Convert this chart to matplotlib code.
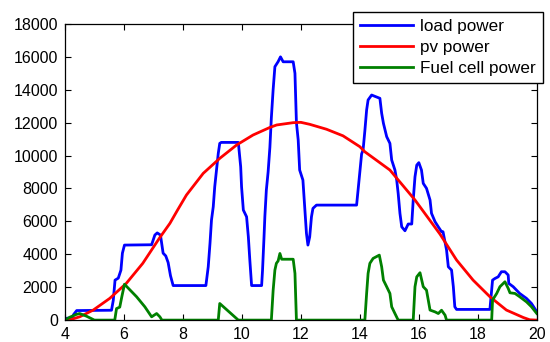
import matplotlib

matplotlib.use("Agg")
import matplotlib.pyplot as plt

# hour of day vs power (W)
load_t = [4.0, 4.25, 4.3, 4.4, 5.58, 5.64, 5.7, 5.81, 5.9, 5.95, 6.02, 6.94, 7.05, 7.13,
          7.24, 7.33, 7.42, 7.5, 7.58, 7.67, 8.78, 8.86, 8.92, 8.97, 9.03, 9.08, 9.14,
          9.2, 9.25, 9.3, 9.88, 9.96, 9.99, 10.05, 10.16, 10.22, 10.27, 10.33, 10.67,
          10.7, 10.75, 10.78, 10.83, 10.89, 10.95, 11.0, 11.06, 11.12, 11.23, 11.31,
          11.4, 11.74, 11.8, 11.85, 11.91, 11.96, 12.07, 12.13, 12.19, 12.24, 12.3,
          12.36, 12.41, 12.53, 13.89, 13.94, 14.0, 14.06, 14.11, 14.17, 14.23, 14.28,
          14.4, 14.51, 14.68, 14.74, 14.8, 14.91, 15.02, 15.08, 15.19, 15.25, 15.3,
          15.36, 15.42, 15.53, 15.64, 15.76, 15.81, 15.87, 15.93, 16.0, 16.09, 16.15,
          16.26, 16.38, 16.43, 16.55, 16.66, 16.77, 16.82, 16.94, 17.0, 17.11, 17.17,
          17.22, 17.28, 18.41, 18.5, 18.58, 18.69, 18.8, 18.92, 19.03, 19.05, 19.2,
          19.42, 19.65, 19.82, 20.0]
load_p = [100, 150, 350, 580, 600, 1200, 2430, 2550, 3040, 4070, 4560, 4580, 5170, 5300,
          5170, 4070, 3900, 3500, 2700, 2100, 2100, 3240, 4680, 6080, 6890, 8100, 9120,
          10130, 10740, 10800, 10800, 9320, 8100, 6690, 6280, 5060, 3650, 2100, 2100,
          3000, 5000, 6300, 7900, 9000, 10500, 12300, 14000, 15400, 15710, 16000,
          15700, 15700, 15000, 12000, 10950, 9120, 8510, 6890, 5270, 4560, 5060,
          6280, 6790, 6990, 6990, 7900, 9000, 10100, 10340, 11500, 12770, 13380,
          13680, 13600, 13480, 12570, 11960, 11150, 10740, 9730, 9120, 8510, 7700,
          6490, 5670, 5430, 5840, 5840, 7300, 8710, 9420, 9570, 9120, 8310,
          8010, 7300, 6490, 5980, 5670, 5370, 5370, 4260, 3240, 3040, 2030,
          810, 650, 650, 2430, 2530, 2630, 2940, 2940, 2740, 2230, 2030,
          1620, 1320, 1010, 510]

pv_t = [4.0, 4.17, 4.5, 4.96, 5.52, 6.08, 6.64, 7.2, 7.56, 7.82, 8.12, 8.69, 9.25, 9.82,
        10.38, 10.95, 11.18, 11.74, 12.0, 12.3, 12.87, 13.43, 14.0, 14.17, 15.02, 15.87,
        16.72, 17.28, 17.84, 18.41, 18.97, 19.54, 19.76, 20.0]
pv_p = [0, 20, 200, 610, 1320, 2230, 3450, 4970, 5880, 6690, 7600, 8920, 9830, 10640,
        11250, 11710, 11860, 12000, 12020, 11900, 11600, 11200, 10540, 10230, 9120, 7300,
        5220, 3650, 2430, 1420, 610, 160, 20, 0]

fc_t = [4.0, 4.17, 4.39, 4.5, 4.73, 5.0, 5.69, 5.75, 5.86, 5.93, 6.02, 6.43, 6.71, 6.94,
        7.11, 7.22, 7.29, 9.2, 9.25, 9.88, 11.0, 11.06, 11.12, 11.17, 11.23, 11.29,
        11.35, 11.74, 11.8, 11.85, 14.17, 14.23, 14.28, 14.34, 14.45, 14.66, 14.74,
        14.8, 14.91, 15.02, 15.08, 15.19, 15.3, 15.81, 15.87, 15.93, 16.04, 16.15,
        16.26, 16.32, 16.38, 16.55, 16.66, 16.77, 16.89, 16.94, 18.47, 18.5, 18.64,
        18.75, 18.92, 19.03, 19.09, 19.26, 19.42, 19.65, 19.82, 20.0]
fc_p = [0, 180, 350, 400, 240, 0, 0, 700, 790, 1420, 2180, 1420, 810, 200,
        400, 200, 0, 0, 1010, 0, 0, 1800, 3040, 3450, 3600, 4050,
        3700, 3700, 2840, 0, 0, 1620, 2840, 3450, 3750, 3950, 3240,
        2430, 2030, 1620, 810, 400, 0, 0, 2030, 2630, 2880, 2030,
        1820, 1220, 610, 500, 400, 600, 300, 0, 0, 1220, 1620,
        2030, 2330, 1930, 1660, 1620, 1420, 1110, 810, 400]

x_ticks = [4, 6, 8, 10, 12, 14, 16, 18, 20]
y_ticks = [0, 2000, 4000, 6000, 8000, 10000, 12000, 14000, 16000, 18000]

plt.rcParams["font.family"] = ["Liberation Sans", "DejaVu Sans"]

fig = plt.figure(figsize=(5.5, 3.42), dpi=100)
ax = fig.add_axes([0.118, 0.064, 0.858, 0.866])

ax.plot(load_t, load_p, color="#0000FF", linewidth=2.0, label="load power")
ax.plot(pv_t, pv_p, color="#FF0000", linewidth=2.0, label="pv power")
ax.plot(fc_t, fc_p, color="#008000", linewidth=2.0, label="Fuel cell power")

ax.set_xlim(4, 20)
ax.set_ylim(0, 18000)
ax.set_xticks(x_ticks)
ax.set_yticks(y_ticks)
ax.tick_params(direction="in", top=True, right=True, length=4, width=0.8,
               labelsize=11.5, pad=5)
for s in ax.spines.values():
    s.set_linewidth(0.9)

leg = fig.legend(loc="upper right", bbox_to_anchor=(0.987, 0.965), fontsize=12.3,
                 frameon=True, fancybox=False, handlelength=3.1, borderpad=0.4,
                 labelspacing=0.35, handletextpad=0.45, borderaxespad=0)
leg.get_frame().set_edgecolor("black")
leg.get_frame().set_linewidth(1.0)
leg.get_frame().set_alpha(1.0)

fig.savefig("out.png", dpi=100)
plt.close(fig)
